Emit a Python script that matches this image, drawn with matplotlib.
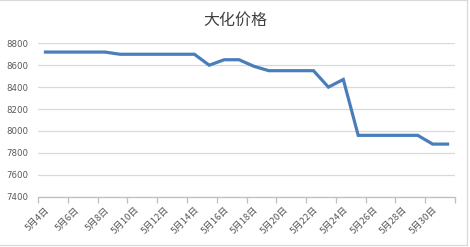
import matplotlib
matplotlib.use("Agg")
import matplotlib.pyplot as plt
from matplotlib.lines import Line2D

plt.rcParams['font.family'] = ['Noto Sans CJK SC', 'DejaVu Sans']

title = "大化价格"
days = list(range(4, 32))
labels = [f"5月{d}日" for d in days]
prices = [8720, 8720, 8720, 8720, 8720, 8700, 8700, 8700, 8700, 8700, 8700,
          8600, 8650, 8650, 8590, 8550, 8550, 8550, 8550, 8400, 8470,
          7960, 7960, 7960, 7960, 7960, 7880, 7880]
y_ticks = [7400, 7600, 7800, 8000, 8200, 8400, 8600, 8800]

W, H = 470, 247
fig = plt.figure(figsize=(W / 100, H / 100), dpi=100)
ax = fig.add_axes([38 / W, 1 - 196.7 / H, (455 - 38) / W, (196.7 - 43.3) / H])

n = len(prices)
xs = [i + 0.5 for i in range(n)]
ax.plot(xs, prices, color='#4A7EBB', lw=2.3, solid_joinstyle='miter', zorder=3)

ax.set_xlim(0, n)
ax.set_ylim(7400, 8800)
ax.set_yticks(y_ticks)
ax.set_yticklabels([str(v) for v in y_ticks], fontsize=6.2, color='#595959',
                   family=['DejaVu Sans'])
ax.tick_params(axis='y', length=0, pad=7)
ax.grid(axis='y', color='#D9D9D9', lw=0.9, zorder=0)

ax.set_xticks(list(range(0, n + 1, 2)))
ax.set_xticklabels([])
ax.tick_params(axis='x', which='major', length=4, color='#BFBFBF', width=0.9)
ax.set_xticks(xs[::2], minor=True)
ax.set_xticklabels(labels[::2], minor=True, rotation=45, ha='right', va='top',
                   rotation_mode='anchor', fontsize=6.8, color='#595959')
ax.tick_params(axis='x', which='minor', length=0, pad=6)

for s in ['top', 'right', 'left']:
    ax.spines[s].set_visible(False)
ax.spines['bottom'].set_color('#BFBFBF')
ax.spines['bottom'].set_linewidth(0.9)

fig.text(235 / W, 1 - 20 / H, title, ha='center', va='center',
         fontsize=11.5, color='#404040')

border = '#D9D9D9'
fig.lines.append(Line2D([0, 467 / W], [1 - 0.5 / H, 1 - 0.5 / H], transform=fig.transFigure,
                        color=border, lw=0.9))
fig.lines.append(Line2D([467 / W, 467 / W], [1 - 0.5 / H, 1 - 245 / H], transform=fig.transFigure,
                        color=border, lw=0.9))
fig.lines.append(Line2D([0, 467 / W], [1 - 245 / H, 1 - 245 / H], transform=fig.transFigure,
                        color=border, lw=0.9))

fig.savefig('out.png', dpi=100)
